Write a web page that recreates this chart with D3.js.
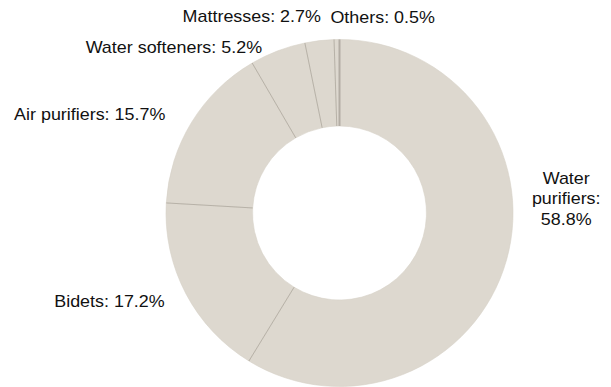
<!DOCTYPE html>
<html>
<head>
<meta charset="utf-8">
<script src="https://cdn.jsdelivr.net/npm/d3@7"></script>
<style>
  html, body { margin: 0; padding: 0; background: #ffffff; }
  svg { display: block; }
  text { font-family: "Liberation Sans", Arial, sans-serif; fill: #111; }
</style>
</head>
<body>
<svg id="chart" width="611" height="387"></svg>
<script>
// Market share by product category (%)
const categories = ["Water purifiers", "Bidets", "Air purifiers", "Water softeners", "Mattresses", "Others"];
const shares = [58.8, 17.2, 15.7, 5.2, 2.7, 0.5];

// Label text lines for each slice
const labelLines = [
  ["Water", "purifiers:", "58.8%"],
  ["Bidets: 17.2%"],
  ["Air purifiers: 15.7%"],
  ["Water softeners: 5.2%"],
  ["Mattresses: 2.7%"],
  ["Others: 0.5%"]
];

// Label placement: anchor and offset from the point on the label ring
const labelAnchor = ["middle", "end", "end", "end", "end", "start"];
const labelNudge = [[39, -82], [-2, 4], [-8, 9], [-8, 22], [4, 3], [-6, 4.5]];

const W = 611, H = 387;
const cx = 339.5, cy = 213;
const outerR = 173.5, innerR = 87;
const labelR = 195;

const svg = d3.select("#chart");
const g = svg.append("g").attr("transform", `translate(${cx},${cy})`);

const pie = d3.pie().sort(null).value(d => d);
const arcs = pie(shares);

const arc = d3.arc().innerRadius(innerR).outerRadius(outerR);

// Slices
g.selectAll("path.slice")
  .data(arcs)
  .enter().append("path")
  .attr("class", "slice")
  .attr("d", arc)
  .attr("fill", "#ddd8cf")
  .attr("stroke", "#d6d1c8")
  .attr("stroke-width", 0.6);

// Dividers between slices
const pt = (a, r) => [r * Math.sin(a), -r * Math.cos(a)];
g.selectAll("line.divider")
  .data(arcs)
  .enter().append("line")
  .attr("class", "divider")
  .attr("x1", d => pt(d.startAngle, innerR)[0])
  .attr("y1", d => pt(d.startAngle, innerR)[1])
  .attr("x2", d => pt(d.startAngle, outerR)[0])
  .attr("y2", d => pt(d.startAngle, outerR)[1])
  .attr("stroke", (d, i) => i === 0 ? "#b3ada4" : "#a8a298")
  .attr("stroke-width", (d, i) => i === 0 ? 2 : 0.7);

// Labels
const labels = svg.append("g");
arcs.forEach((d, i) => {
  const mid = (d.startAngle + d.endAngle) / 2;
  const p = pt(mid, labelR);
  const x = cx + p[0] + labelNudge[i][0];
  const y = cy + p[1] + labelNudge[i][1];
  const t = labels.append("text")
    .attr("transform", `translate(${x},${y}) scale(1.12,1)`)
    .attr("text-anchor", labelAnchor[i])
    .attr("font-size", 16);
  labelLines[i].forEach((line, j) => {
    t.append("tspan").attr("x", 0).attr("y", j * 20.5).text(line);
  });
});
</script>
</body>
</html>
